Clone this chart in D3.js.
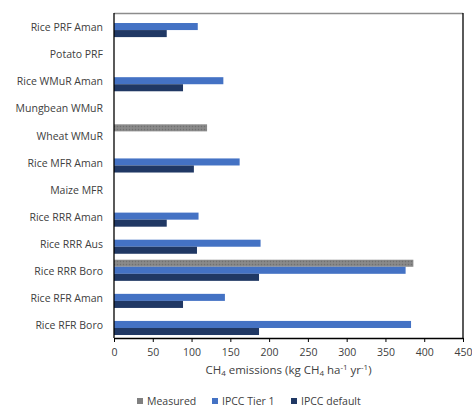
<!DOCTYPE html>
<html>
<head>
<meta charset="utf-8">
<script src="https://cdn.jsdelivr.net/npm/d3@7"></script>
<style>
  body { margin: 0; background: #fff; }
  text { font-family: "Open Sans", sans-serif; fill: #404040; }
</style>
</head>
<body>
<script>
// categories top to bottom
var categories = ["Rice PRF Aman", "Potato PRF", "Rice WMuR Aman", "Mungbean WMuR", "Wheat WMuR",
                  "Rice MFR Aman", "Maize MFR", "Rice RRR Aman", "Rice RRR Aus", "Rice RRR Boro",
                  "Rice RFR Aman", "Rice RFR Boro"];
var seriesNames = ["Measured", "IPCC Tier 1", "IPCC default"];
var measured   = [null, null, null, null, 120, null, null, null, null, 386, null, null];
var ipccTier1  = [108, null, 141, null, null, 162, null, 109, 189, 376, 143, 383];
var ipccDefault = [68, null, 89, null, null, 103, null, 68, 107, 187, 89, 187];
var xTicks = [0, 50, 100, 150, 200, 250, 300, 350, 400, 450];
var colors = ["#808080", "#4472c4", "#203864"];

var width = 472, height = 407;
var pLeft = 114, pRight = 463, pTop = 13, pBottom = 338;

var svg = d3.select("body").append("svg")
    .attr("width", width)
    .attr("height", height);

var defs = svg.append("defs");
var pat = defs.append("pattern")
    .attr("id", "grayTex")
    .attr("patternUnits", "userSpaceOnUse")
    .attr("width", 3).attr("height", 3);
pat.append("rect").attr("width", 3).attr("height", 3).attr("fill", "#858585");
pat.append("rect").attr("width", 1).attr("height", 1).attr("fill", "#707070");
pat.append("rect").attr("x", 1.5).attr("y", 1.5).attr("width", 1).attr("height", 1).attr("fill", "#999");

var x = d3.scaleLinear().domain([0, 450]).range([pLeft, pRight]);
var y = d3.scaleBand().domain(categories).range([pTop, pBottom]).paddingInner(0.22).paddingOuter(0.11);
var ySub = d3.scaleBand().domain(seriesNames).range([0, y.bandwidth()]);

var data = [measured, ipccTier1, ipccDefault];

// frame
svg.append("line").attr("x1", pLeft).attr("x2", pRight).attr("y1", pTop + 0.5).attr("y2", pTop + 0.5)
    .attr("stroke", "#8c8c8c").attr("stroke-width", 1.5);
svg.append("line").attr("x1", pRight).attr("x2", pRight).attr("y1", pTop).attr("y2", pBottom)
    .attr("stroke", "#000").attr("stroke-width", 1.3);

data.forEach(function(vals, si) {
  svg.append("g").selectAll("rect")
      .data(categories.map(function(c, i) { return { c: c, v: vals[i] }; })
                      .filter(function(d) { return d.v != null; }))
      .enter()
      .append("rect")
      .attr("x", x(0))
      .attr("y", function(d) { return y(d.c) + ySub(seriesNames[si]); })
      .attr("width", function(d) { return x(d.v) - x(0); })
      .attr("height", ySub.bandwidth())
      .attr("fill", si === 0 ? "url(#grayTex)" : colors[si]);
});

// y axis line
svg.append("line").attr("x1", pLeft).attr("x2", pLeft).attr("y1", pTop).attr("y2", pBottom)
    .attr("stroke", "#000").attr("stroke-width", 1.3);

// category labels
svg.append("g").selectAll("text")
    .data(categories)
    .enter()
    .append("text")
    .attr("x", pLeft - 11)
    .attr("y", function(d) { return y(d) + y.bandwidth() / 2 + 1; })
    .attr("dy", "0.35em")
    .attr("text-anchor", "end")
    .attr("font-size", "10.5px")
    .text(function(d) { return d; });

// x axis
var xAxis = d3.axisBottom(x).tickValues(xTicks).tickSizeOuter(0).tickSizeInner(4);
var gx = svg.append("g").attr("transform", "translate(0," + pBottom + ")").call(xAxis);
gx.select(".domain").attr("stroke", "#000").attr("stroke-width", 1.3);
gx.selectAll(".tick line").attr("stroke", "#000");
gx.selectAll(".tick text").attr("font-size", "10.5px").attr("fill", "#404040")
    .attr("font-family", "Open Sans, sans-serif").attr("dy", "1.05em");

// axis title
var title = svg.append("text")
    .attr("x", 288.5)
    .attr("y", 374)
    .attr("text-anchor", "middle")
    .attr("font-size", "11.5px");
title.append("tspan").text("CH");
title.append("tspan").attr("font-size", "8px").attr("dy", "2").text("4");
title.append("tspan").attr("dy", "-2").text(" emissions (kg CH");
title.append("tspan").attr("font-size", "8px").attr("dy", "2").text("4");
title.append("tspan").attr("dy", "-2").text(" ha");
title.append("tspan").attr("font-size", "8px").attr("dy", "-4").text("-1");
title.append("tspan").attr("dy", "4").text("  yr");
title.append("tspan").attr("font-size", "8px").attr("dy", "-4").text("-1");
title.append("tspan").attr("dy", "4").text(")");

// legend
var legendX = [137, 212, 291];
var lg = svg.append("g").selectAll("g")
    .data(seriesNames)
    .enter()
    .append("g")
    .attr("transform", function(d, i) { return "translate(" + legendX[i] + ",401)"; });
lg.append("rect").attr("x", 0).attr("y", -3).attr("width", 6).attr("height", 6)
    .attr("fill", function(d, i) { return colors[i]; });
lg.append("text").attr("x", 10).attr("dy", "0.35em").attr("font-size", "10.5px")
    .text(function(d) { return d; });
</script>
</body>
</html>
